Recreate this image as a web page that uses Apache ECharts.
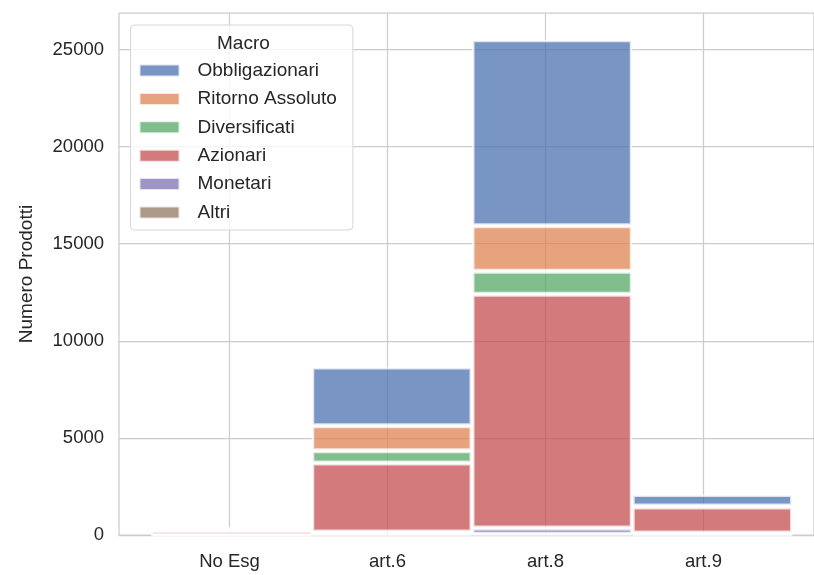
<!DOCTYPE html>
<html>
<head>
<meta charset="utf-8">
<script src="https://cdn.jsdelivr.net/npm/echarts@6/dist/echarts.min.js"></script>
<style>html,body{margin:0;padding:0;background:#fff}#c{width:814px;height:575px}</style>
</head>
<body>
<div id="c"></div>
<script>
// Categories (x axis)
const categories = ["No Esg", "art.6", "art.8", "art.9"];
// Stack order bottom -> top
const altri          = [0,   20,   40,    10];
const monetari       = [0,   130,  320,   90];
const azionari       = [200, 3557, 12034, 1342];
const diversificati  = [40,  629,  1185,  25];
const ritornoAssoluto= [60,  1292, 2351,  26];
const obbligazionari = [110, 3023, 9570,  592];
const yTicks = [0, 5000, 10000, 15000, 20000, 25000];
const legendTitle = "Macro";
const yAxisTitle = "Numero Prodotti";

const seriesDefs = [
  {name: "Altri", data: altri, color: "#937860"},
  {name: "Monetari", data: monetari, color: "#8172B3"},
  {name: "Azionari", data: azionari, color: "#C44E52"},
  {name: "Diversificati", data: diversificati, color: "#55A868"},
  {name: "Ritorno Assoluto", data: ritornoAssoluto, color: "#DD8452"},
  {name: "Obbligazionari", data: obbligazionari, color: "#4C72B0"}
];

const FONT = "Liberation Sans, Arial, sans-serif";
const TXT = "#262626";
const YMAX = 26880;
const chart = echarts.init(document.getElementById('c'), null, {renderer: 'canvas'});

const option = {
  animation: false,
  backgroundColor: "#ffffff",
  grid: [
    // frame grid (x spans -0.7 .. 3.7, seaborn margins)
    {left: 119, top: 13, width: 705, height: 522, show: true, borderColor: "#cccccc", borderWidth: 1.25, backgroundColor: "transparent"},
    // bar grid (x spans -0.5 .. 3.5)
    {left: 151.5, top: 13, width: 641, height: 522}
  ],
  title: {
    text: legendTitle, left: 212, top: 29, z: 20,
    textStyle: {fontFamily: FONT, fontSize: 19, fontWeight: "normal", color: TXT}
  },
  legend: {
    data: seriesDefs.map(s => s.name).slice().reverse(),
    orient: "vertical", left: 130.5, top: 25,
    padding: [36, 16, 8, 8],
    itemWidth: 40, itemHeight: 12, itemGap: 9.4,
    icon: "rect",
    backgroundColor: "rgba(255,255,255,0.8)",
    borderColor: "#d6d6d6", borderWidth: 1, borderRadius: 4,
    textStyle: {fontFamily: FONT, fontSize: 19, color: TXT, lineHeight: 18, padding: [0, 0, 0, 13]}
  },
  xAxis: [
    {
      type: "value", gridIndex: 0, min: -0.7, max: 3.7,
      axisLine: {show: false},
      axisTick: {show: false, customValues: [0, 1, 2, 3]},
      axisLabel: {customValues: [0, 1, 2, 3], formatter: v => categories[Math.round(v)], fontFamily: FONT, fontSize: 18.5, color: TXT, margin: 17},
      splitLine: {show: true, lineStyle: {color: "#cccccc", width: 1.25}}
    },
    {
      type: "category", gridIndex: 1, data: categories, boundaryGap: true,
      axisLine: {show: false}, axisTick: {show: false}, axisLabel: {show: false}, splitLine: {show: false}
    }
  ],
  yAxis: [
    {
      type: "value", gridIndex: 0, min: 0, max: YMAX, interval: 5000,
      name: yAxisTitle, nameLocation: "middle", nameGap: 83, nameRotate: 90,
      nameTextStyle: {fontFamily: FONT, fontSize: 19, color: TXT},
      axisLine: {show: false}, axisTick: {show: false},
      axisLabel: {fontFamily: FONT, fontSize: 18.5, color: TXT, margin: 15, showMaxLabel: false, formatter: v => String(v)},
      splitLine: {show: true, showMaxLine: false, lineStyle: {color: "#cccccc", width: 1.25}}
    },
    {
      type: "value", gridIndex: 1, min: 0, max: YMAX,
      axisLine: {show: false}, axisTick: {show: false}, axisLabel: {show: false}, splitLine: {show: false}
    }
  ],
  series: seriesDefs.map(s => ({
    name: s.name, type: "bar", stack: "total",
    xAxisIndex: 1, yAxisIndex: 1,
    barWidth: "100%", barCategoryGap: 0,
    itemStyle: {color: s.color, opacity: 0.75, borderColor: "#ffffff", borderWidth: 2.5},
    data: s.data
  }))
};
chart.setOption(option);
</script>
</body>
</html>
